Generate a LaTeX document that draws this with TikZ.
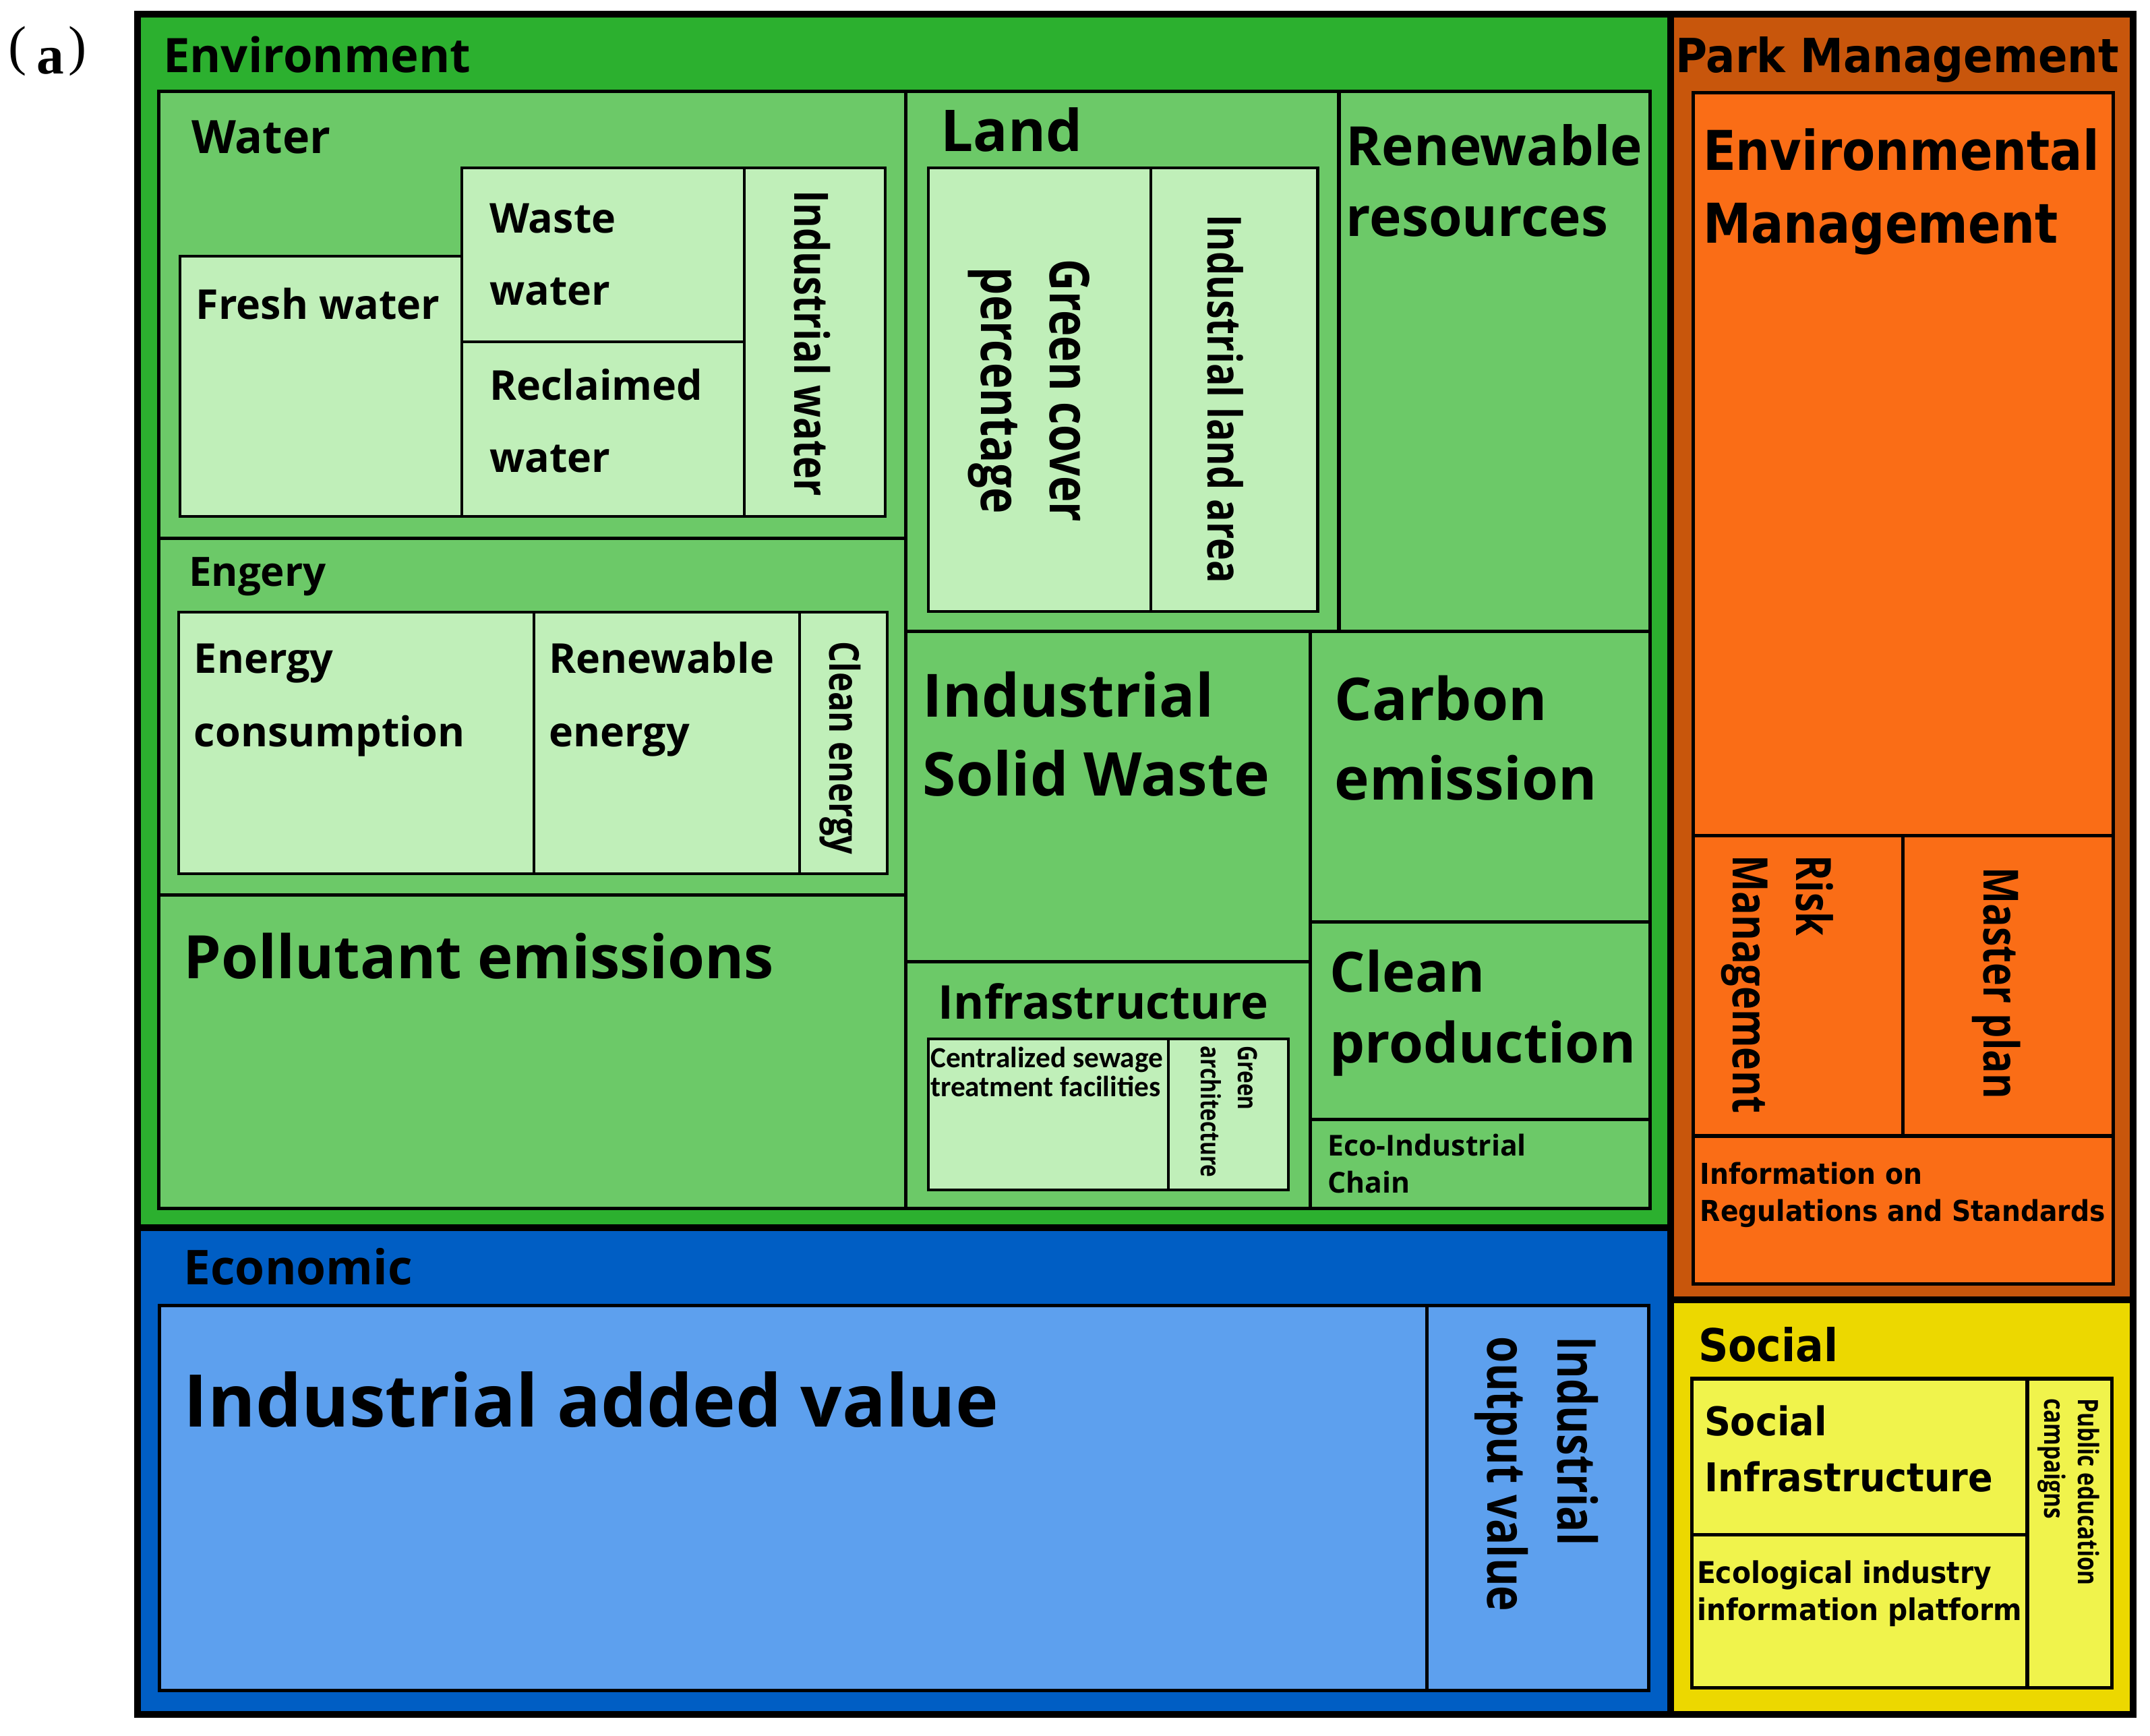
\documentclass[tikz,border=0pt]{standalone}
\usepackage{fontspec}
\newfontfamily\os{Open Sans}
\newfontfamily\osr{Open Sans}[FakeStretch=0.8]
\newfontfamily\dvb{DejaVu Sans}[FakeStretch=0.92]
\newfontfamily\dve{DejaVu Sans}[FakeStretch=0.88]
\newfontfamily\cb{Carlito}
\newfontfamily\lser{Liberation Serif}
\newcommand\fsz[1]{\fontsize{#1}{#1}\selectfont}
\definecolor{envG}{RGB}{44,176,47}
\definecolor{midG}{RGB}{108,201,104}
\definecolor{lightG}{RGB}{192,239,185}
\definecolor{parkO}{RGB}{200,86,12}
\definecolor{orangeL}{RGB}{250,109,22}
\definecolor{econB}{RGB}{0,94,196}
\definecolor{blueL}{RGB}{93,160,238}
\definecolor{socY}{RGB}{236,216,0}
\definecolor{yelL}{RGB}{240,243,76}
\tikzset{
  lbl/.style={inner sep=0pt, outer sep=0pt, anchor=base west, text=black},
  rlbl/.style={lbl, rotate=-90},
  region/.style={draw=black, line width=5pt},
  grp/.style={draw=black, line width=2.5pt},
  leaf/.style={draw=black, line width=2pt},
  segb/.style={font=\os\bfseries\fsz{#1}},
  segr/.style={font=\osr\bfseries\fsz{#1}},
  tahb/.style={font=\dvb\bfseries\fsz{#1}},
}
\begin{document}
\begin{tikzpicture}[x=1pt,y=-1pt]
\fill[white] (0,0) rectangle (1568,1266);
\useasboundingbox (0,0) rectangle (1568,1266);
% ---- top-level regions
\draw[region, fill=envG]  (100.5,10.5) rectangle (1218.5,895.5);
\draw[region, fill=parkO] (1218.5,10.5) rectangle (1555.5,948);
\draw[region, fill=econB] (100.5,895.5) rectangle (1218.5,1250.5);
\draw[region, fill=socY]  (1218.5,948) rectangle (1555.5,1250.5);
% ---- environment groups
\draw[grp, fill=midG] (116,66.5) rectangle (660.5,392.5);
\draw[grp, fill=midG] (116,392.5) rectangle (660.5,652.5);
\draw[grp, fill=midG] (116,652.5) rectangle (660.5,881.5);
\draw[grp, fill=midG] (660.5,66.5) rectangle (976.5,460.5);
\draw[grp, fill=midG] (976.5,66.5) rectangle (1203.5,460.5);
\draw[grp, fill=midG] (660.5,460.5) rectangle (955.5,701.5);
\draw[grp, fill=midG] (660.5,701.5) rectangle (955.5,881.5);
\draw[grp, fill=midG] (955.5,460.5) rectangle (1203.5,672.5);
\draw[grp, fill=midG] (955.5,672.5) rectangle (1203.5,816.5);
\draw[grp, fill=midG] (955.5,816.5) rectangle (1203.5,881.5);
% ---- environment leaves
\draw[leaf, fill=lightG] (131.5,187) rectangle (337,376.5);
\draw[leaf, fill=lightG] (337,122.5) rectangle (543,249.5);
\draw[leaf, fill=lightG] (337,249.5) rectangle (543,376.5);
\draw[leaf, fill=lightG] (543,122.5) rectangle (645.5,376.5);
\draw[leaf, fill=lightG] (130.5,446.5) rectangle (389.5,637);
\draw[leaf, fill=lightG] (389.5,446.5) rectangle (583,637);
\draw[leaf, fill=lightG] (583,446.5) rectangle (647,637);
\draw[leaf, fill=lightG] (677,122.5) rectangle (839.5,446);
\draw[leaf, fill=lightG] (839.5,122.5) rectangle (961,446);
\draw[leaf, fill=lightG] (677,757.5) rectangle (852,868);
\draw[leaf, fill=lightG] (852,757.5) rectangle (939.5,868);
% ---- park management
\draw[grp, fill=orangeL] (1235,67.5) rectangle (1541,609.5);
\draw[grp, fill=orangeL] (1235,609.5) rectangle (1388,828.5);
\draw[grp, fill=orangeL] (1388,609.5) rectangle (1541,828.5);
\draw[grp, fill=orangeL] (1235,828.5) rectangle (1541,936.5);
% ---- economic
\draw[grp, fill=blueL] (116.5,952) rectangle (1040.5,1233);
\draw[grp, fill=blueL] (1040.5,952) rectangle (1202.5,1233);
% ---- social
\draw[grp, fill=yelL] (1234,1005.5) rectangle (1478.5,1119.5);
\draw[grp, fill=yelL] (1234,1119.5) rectangle (1478.5,1231);
\draw[grp, fill=yelL] (1478.5,1005.5) rectangle (1540,1231);

% ---- panel tag
\node[lbl] (panel) at (6,54) {\lser\fsz{40}\raisebox{7pt}{(}\kern7.5pt{\bfseries\fsz{40}a}\kern3pt\raisebox{7pt}{)}};

% ---- environment labels
\node[lbl, segb=34.7] (envL) at (119,52.7) {Environment};
\node[lbl, segb=33.5] (waterL) at (139.7,111.9) {Water};
\node[lbl, segb=30] (freshL) at (143,232.7) {Fresh water};
\node[lbl, segb=30] (wasteA) at (357,169.7) {Waste};
\node[lbl, segb=30] (wasteB) at (357,222.5) {water};
\node[lbl, segb=30] (reclA) at (357,291.9) {Reclaimed};
\node[lbl, segb=30] (reclB) at (357,344.6) {water};
\node[rlbl, segr=34.5, anchor=base] (indwaterL) at (579.5,250.5) {Industrial water};
\node[lbl, segb=29.5] (engeryL) at (137.7,427.4) {Engery};
\node[lbl, segb=30] (econsA) at (141.6,491) {Energy};
\node[lbl, segb=30] (econsB) at (141.6,544.7) {consumption};
\node[lbl, segb=30] (renenA) at (400.5,491) {Renewable};
\node[lbl, segb=30] (renenB) at (400.5,544.7) {energy};
\node[rlbl, segr=30, anchor=base] (cleanenL) at (605,545.5) {Clean energy};
\node[lbl, segb=43.7] (pollutL) at (134,713.7) {Pollutant emissions};
\node[lbl, segb=42] (landL) at (686,110.2) {Land};
\node[rlbl, segr=40, anchor=base] (greenA) at (766,285) {Green cover};
\node[rlbl, segr=40, anchor=base] (greenB) at (715.5,285) {percentage};
\node[rlbl, segr=34.2, anchor=base] (indlandL) at (881,291) {Industrial land area};
\node[lbl, segb=39.5] (renresA) at (981.8,120.6) {Renewable};
\node[lbl, segb=39.5] (renresB) at (981.8,172.2) {resources};
\node[lbl, segb=43.5] (iswA) at (673,523) {Industrial};
\node[lbl, segb=44] (iswB) at (673,580.2) {Solid Waste};
\node[lbl, segb=43] (carbonA) at (973.4,525.6) {Carbon};
\node[lbl, segb=43] (carbonB) at (973.4,583.6) {emission};
\node[lbl, segb=40.5] (cleanA) at (970,723.3) {Clean};
\node[lbl, segb=40.5] (cleanB) at (970,775) {production};
\node[lbl, segb=21] (ecoA) at (968.4,842.8) {Eco-Industrial};
\node[lbl, segb=21] (ecoB) at (968.4,870) {Chain};
\node[lbl, segb=34] (infraL) at (684.3,743) {Infrastructure};
\node[lbl, font=\cb\bfseries\fsz{21.3}] (sewA) at (678.6,778.4) {Centralized sewage};
\node[lbl, font=\cb\bfseries\fsz{21.3}] (sewB) at (678.6,799.5) {treatment facilities};
\node[rlbl, segr=19.4] (garchA) at (903,763) {Green};
\node[rlbl, segr=19.4] (garchB) at (876,763) {architecture};

% ---- economic labels
\node[lbl, segb=35] (econL) at (134,936.7) {Economic};
\node[lbl, segb=53] (iavL) at (134,1040.5) {Industrial added value};
\node[rlbl, segr=39] (iovA) at (1136,975) {Industrial};
\node[rlbl, segr=39] (iovB) at (1085,975) {output value};

% ---- park management labels
\node[lbl, tahb=34.3] (parkL) at (1222,53) {Park Management};
\node[lbl, font=\dve\bfseries\fsz{40}] (envmA) at (1242,124.3) {Environmental};
\node[lbl, font=\dve\bfseries\fsz{40}] (envmB) at (1242,177.3) {Management};
\node[rlbl, segr=35.5] (riskA) at (1310,623.6) {Risk};
\node[rlbl, segr=35.5] (riskB) at (1263.7,623.6) {Management};
\node[rlbl, segr=35.3, anchor=base] (masterL) at (1447,717) {Master plan};
\node[lbl, tahb=21] (infoA) at (1240,863.8) {Information on};
\node[lbl, tahb=21] (infoB) at (1240,890.6) {Regulations and Standards};

% ---- social labels
\node[lbl, tahb=33] (socialL) at (1238.6,993.2) {Social};
\node[lbl, tahb=28.9] (socinfA) at (1243,1047) {Social};
\node[lbl, tahb=28.9] (socinfB) at (1243,1088) {Infrastructure};
\node[lbl, tahb=21.8] (ecoinfA) at (1237.6,1154.8) {Ecological industry};
\node[lbl, tahb=21.8] (ecoinfB) at (1237.6,1181.6) {information platform};
\node[rlbl, segr=20.5] (pubA) at (1515.5,1020) {Public education};
\node[rlbl, segr=20.5] (pubB) at (1491,1020) {campaigns};
\end{tikzpicture}
\end{document}
